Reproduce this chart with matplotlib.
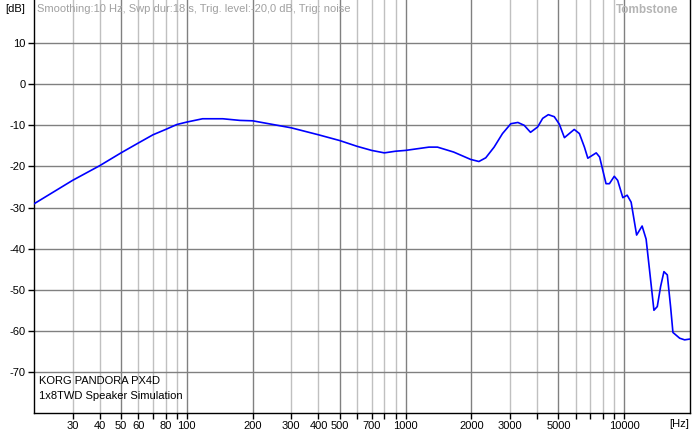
import matplotlib
matplotlib.use("Agg")
import matplotlib.pyplot as plt
from matplotlib.ticker import NullFormatter, FixedLocator, FixedFormatter

plt.rcParams["font.family"] = ["Liberation Sans", "DejaVu Sans"]

# frequency response
freq = [20, 30, 40, 50, 60, 70, 80, 90, 100, 118, 146, 175, 200, 300, 400,
        500, 600, 700, 800, 900, 1000, 1280, 1400, 1660, 1987, 2166, 2328,
        2542, 2777, 3033, 3265, 3490, 3730, 4020, 4240, 4500, 4790, 5050,
        5330, 5610, 5910, 6240, 6580, 6820, 7450, 7720, 8260, 8560, 9010,
        9340, 9860, 10320, 10760, 11400, 12080, 12600, 13060, 13680, 14170,
        14680, 15200, 15750, 16300, 16710, 17940, 18900, 20000]
level = [-29.1, -23.4, -19.8, -16.7, -14.3, -12.3, -11.0, -9.8, -9.2, -8.4,
         -8.4, -8.8, -8.9, -10.6, -12.3, -13.7, -15.1, -16.1, -16.7, -16.3,
         -16.1, -15.3, -15.3, -16.5, -18.3, -18.8, -17.9, -15.3, -12.0, -9.6,
         -9.3, -10.0, -11.7, -10.4, -8.3, -7.4, -7.9, -9.7, -13.0, -12.0,
         -11.0, -12.0, -15.3, -18.0, -16.7, -17.7, -24.2, -24.2, -22.4,
         -23.4, -27.6, -27.0, -28.7, -36.7, -34.5, -37.7, -45.2, -55.0, -54.1,
         -49.2, -45.6, -46.4, -54.1, -60.4, -61.8, -62.2, -62.0]

dark_x = [50, 100, 200, 500, 1000, 2000, 5000, 10000]
light_x = [30, 40, 60, 70, 80, 90, 300, 400, 600, 700, 800, 900, 3000, 4000,
           6000, 7000, 8000, 9000]
xlabels = [30, 40, 50, 60, 80, 100, 200, 300, 400, 500, 700, 1000, 2000,
           3000, 5000, 10000]
yticks = [10, 0, -10, -20, -30, -40, -50, -60, -70]

fig = plt.figure(figsize=(6.92, 4.44), dpi=100)
ax = fig.add_axes([34 / 692, (444 - 413) / 444, (690 - 34) / 692, 413 / 444])
ax.set_xscale("log")
ax.set_xlim(20, 20000)
ax.set_ylim(-80, 20.5)

for x in light_x:
    ax.axvline(x, color="#c0c0c0", lw=1, zorder=1)
for x in dark_x:
    ax.axvline(x, color="#808080", lw=1, zorder=1)
for y in yticks:
    ax.axhline(y, color="#808080", lw=1, zorder=1)

ax.plot(freq, level, color="#0000ff", lw=1.2, zorder=3)

allx = sorted(dark_x + light_x)
ax.xaxis.set_major_locator(FixedLocator(allx))
ax.xaxis.set_minor_locator(FixedLocator([]))
ax.xaxis.set_minor_formatter(NullFormatter())
ax.xaxis.set_major_formatter(FixedFormatter([str(x) if x in xlabels else "" for x in allx]))
ax.set_yticks(yticks)
ax.set_yticklabels([str(y) for y in yticks])
ax.tick_params(axis="both", direction="out", length=4, width=1,
               labelsize=8, color="black", pad=2)

ax.spines["top"].set_visible(False)
for s in ["left", "bottom", "right"]:
    ax.spines[s].set_color("black")
    ax.spines[s].set_linewidth(1)

fig.text(5 / 692, 1 - 9 / 444, "[dB]", fontsize=8, va="center")
fig.text(669 / 692, 1 - 424 / 444, "[Hz]", fontsize=8, va="center")
fig.text(37 / 692, 1 - 9 / 444, "Smoothing:10 Hz, Swp dur:18 s, Trig. level:-20,0 dB, Trig: noise",
         fontsize=8, color="#a0a0a0", va="center")
fig.text(678 / 692, 1 - 10 / 444, "Tombstone", fontsize=8.5, color="#b4b4b4",
         va="center", ha="right", fontweight="bold")
fig.text(39 / 692, 1 - 381 / 444, "KORG PANDORA PX4D", fontsize=8, va="center")
fig.text(39 / 692, 1 - 396 / 444, "1x8TWD Speaker Simulation", fontsize=8, va="center")

fig.savefig("out.png", dpi=100)
